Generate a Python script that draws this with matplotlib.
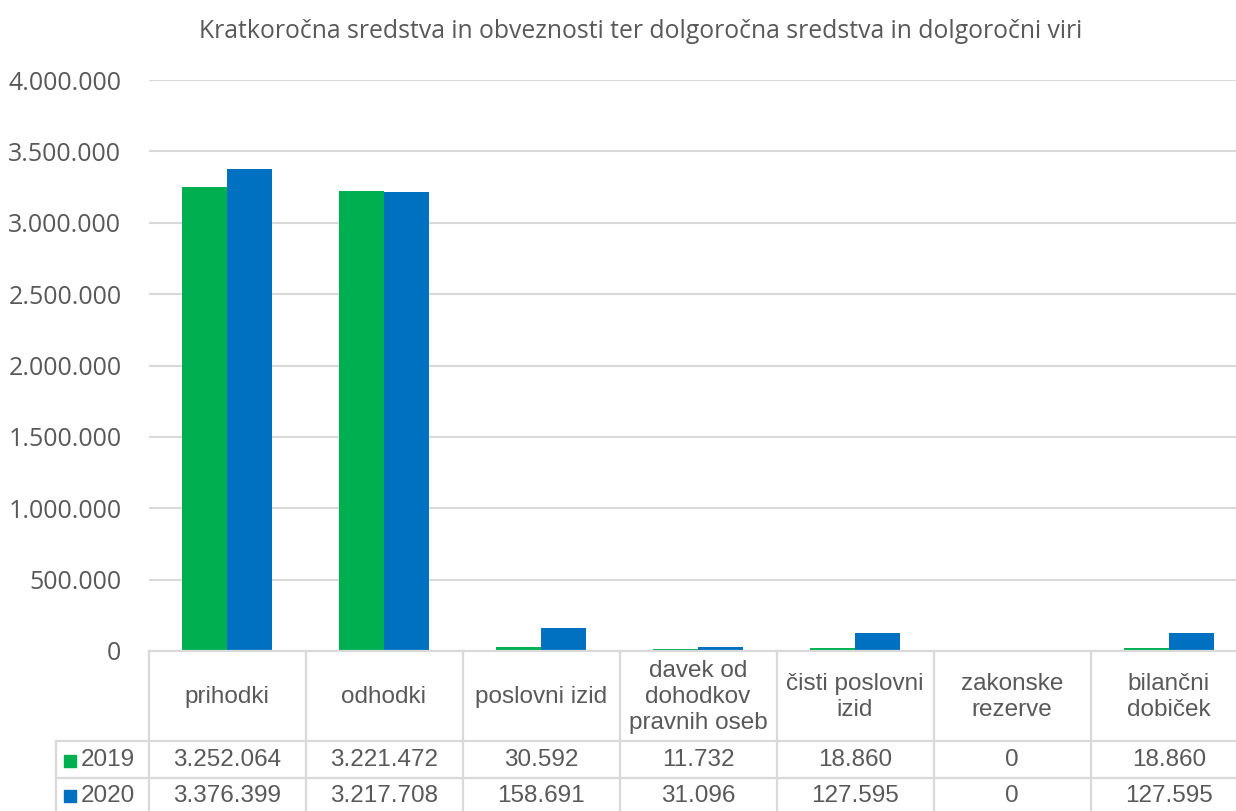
import matplotlib
matplotlib.use("Agg")
import matplotlib.pyplot as plt
from matplotlib.patches import Rectangle
from matplotlib.lines import Line2D
from matplotlib.transforms import blended_transform_factory
from matplotlib.ticker import FuncFormatter
import numpy as np

# data
categories = ["prihodki", "odhodki", "poslovni izid",
              "davek od\ndohodkov\npravnih oseb", "čisti poslovni\nizid",
              "zakonske\nrezerve", "bilančni\ndobiček"]
years = ["2019", "2020"]
values_2019 = [3252064, 3221472, 30592, 11732, 18860, 0, 18860]
values_2020 = [3376399, 3217708, 158691, 31096, 127595, 0, 127595]
title = "Kratkoročna sredstva in obveznosti ter dolgoročna sredstva in dolgoročni viri"

green = "#00B050"
blue = "#0070C0"
txt = "#595959"
grid = "#D9D9D9"

W, H = 1236, 811
fig = plt.figure(figsize=(W / 100, H / 100), dpi=100, facecolor="white")

def fx(px):
    return px / W

def fy(py):
    return 1 - py / H

# plot area in pixels
left, right, top, bottom = 148.5, 1236, 80, 651
ax = fig.add_axes([fx(left), fy(bottom), fx(right - left), fy(top) - fy(bottom)])

cat_w = 157.0
x = np.arange(len(categories))
bw = 0.287
ax.bar(x - bw / 2, values_2019, bw, color=green, zorder=3)
ax.bar(x + bw / 2, values_2020, bw, color=blue, zorder=3)

ax.set_xlim(-0.5, -0.5 + (right - left) / cat_w)
ax.set_ylim(0, 4000000)
ax.set_yticks(np.arange(0, 4000001, 500000))
ax.yaxis.set_major_formatter(FuncFormatter(lambda v, p: f"{int(v):,}".replace(",", ".")))
ax.set_xticks([])
ax.tick_params(axis="y", length=0, pad=19.5, labelsize=18, labelcolor=txt)
for lab in ax.get_yticklabels():
    lab.set_fontfamily("Open Sans")
ax.grid(axis="y", color=grid, linewidth=1.5, zorder=0)
for s in ax.spines.values():
    s.set_visible(False)

fig.text(fx(640.5), fy(31), title, ha="center", va="center",
         fontsize=17.8, color=txt, family="Open Sans")

# data table below the plot
tr = blended_transform_factory(ax.transData, fig.transFigure)
row_top, row1, row2 = 651, 741, 778
lab_left = 55.7
line_kw = dict(color=grid, linewidth=1.6)

fig.add_artist(Line2D([fx(left), 1], [fy(row_top)] * 2, transform=fig.transFigure, **line_kw))
for yy in (row1, row2):
    fig.add_artist(Line2D([fx(lab_left), 1], [fy(yy)] * 2, transform=fig.transFigure, **line_kw))
fig.add_artist(Line2D([fx(lab_left)] * 2, [fy(row1), 0], transform=fig.transFigure, **line_kw))
for i in range(len(categories) + 1):
    fig.add_artist(Line2D([i - 0.5] * 2, [fy(row_top), 0], transform=tr, **line_kw))

tfont = dict(family="Liberation Sans", fontsize=17.5, color=txt)
for i, name in enumerate(categories):
    fig.text(i, fy((row_top + row1) / 2 + 1), name, transform=tr, ha="center",
             va="center", linespacing=1.24, **tfont)
    for vals, yy in ((values_2019, (row1 + row2) / 2 + 1), (values_2020, (row2 + H) / 2 + 1)):
        fig.text(i, fy(yy), f"{vals[i]:,}".replace(",", "."), transform=tr,
                 ha="center", va="center", **tfont)

for name, col, yy in ((years[0], green, (row1 + row2) / 2 + 1), (years[1], blue, (row2 + H) / 2 + 1)):
    fig.add_artist(Rectangle((fx(64), fy(yy + 6)), fx(12), 12 / H,
                             transform=fig.transFigure, color=col))
    fig.text(fx(81), fy(yy), name, ha="left", va="center", **tfont)

fig.savefig("out.png", dpi=100, facecolor="white")
